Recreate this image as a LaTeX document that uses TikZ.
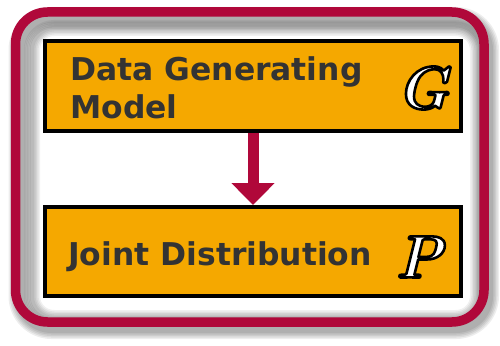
\documentclass[tikz,border=0pt]{standalone}
\usepackage{fontspec}
\setmainfont{DejaVu Sans}
\newfontfamily\lmfont{Latin Modern Roman}
\usetikzlibrary{arrows.meta}
\definecolor{crimson}{RGB}{176,8,58}
\definecolor{amber}{RGB}{245,168,0}
\definecolor{txt}{RGB}{51,51,51}
\newcommand{\outlined}[1]{\special{pdf:literal 0 0 0 RG 2.6 w 1 j 2 Tr}#1\special{pdf:literal 0 Tr}}
\tikzset{
  stepbox/.style={draw=black, line width=4pt, fill=amber, rectangle, inner sep=0pt},
  label/.style={text=txt, font=\fontsize{31.4}{38}\selectfont\bfseries, anchor=base west, inner sep=0pt},
  bigletter/.style={font=\lmfont\bfseries\itshape\fontsize{60}{60}\selectfont, inner sep=0pt, text=white},
  flow/.style={crimson, line width=11pt, -{Triangle[width=42pt,length=22pt]}}
}
\begin{document}
\begin{tikzpicture}[x=1pt,y=-1pt]
\useasboundingbox (0,0) rectangle (500,345);
\fill[white] (0,0) rectangle (500,345);
% outer shadow
\foreach \w in {22,19,16,13,10}
  \draw[black, opacity=0.07, line width=\w pt, rounded corners=32pt] (19.5,18) rectangle (488,328);
% inner glow ring
\foreach \w in {16,13,10,7,4}
  \draw[black, opacity=0.06, line width=\w pt, rounded corners=22pt] (32,28) rectangle (478,318);
% frame
\draw[crimson, line width=9.5pt, rounded corners=32pt] (15.5,12) rectangle (484,322);
% boxes
\node[stepbox, minimum width=416pt, minimum height=90pt] (gen) at (253,86) {};
\node[stepbox, minimum width=416pt, minimum height=89pt] (joint) at (253,251.5) {};
\draw[flow] (gen.south) -- (joint.north);
% texts
\node[label] (t1) at (70,80) {Data Generating};
\node[label] (t2) at (70,118) {Model};
\node[label] (t3) at (68,265) {Joint Distribution};
% outlined letters
\node[bigletter] (G) at (423,88) {\outlined{G}};
\node[bigletter] (P) at (419,257) {\outlined{P}};
\end{tikzpicture}
\end{document}
